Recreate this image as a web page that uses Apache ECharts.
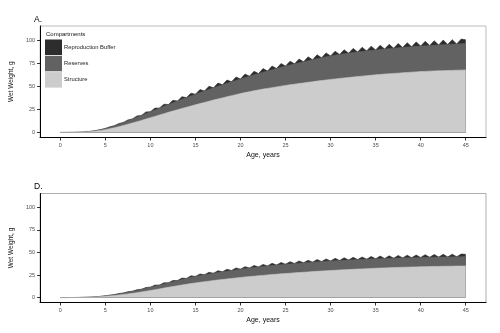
<!DOCTYPE html>
<html>
<head>
<meta charset="utf-8">
<script src="https://cdn.jsdelivr.net/npm/echarts@6/dist/echarts.min.js"></script>
<style>html,body{margin:0;padding:0;background:#fff}#c{width:500px;height:333px}</style>
</head>
<body>
<div id="c"></div>
<script>
// Age (years), half-year steps
const ages = [0,0.5,1,1.5,2,2.5,3,3.5,4,4.5,5,5.5,6,6.5,7,7.5,8,8.5,9,9.5,10,10.5,11,11.5,12,12.5,13,13.5,14,14.5,15,15.5,16,16.5,17,17.5,18,18.5,19,19.5,20,20.5,21,21.5,22,22.5,23,23.5,24,24.5,25,25.5,26,26.5,27,27.5,28,28.5,29,29.5,30,30.5,31,31.5,32,32.5,33,33.5,34,34.5,35,35.5,36,36.5,37,37.5,38,38.5,39,39.5,40,40.5,41,41.5,42,42.5,43,43.5,44,44.5,45];

// Panel A
const aStructure = [0,0.02,0.05,0.1,0.2,0.4,0.6,1.0,1.5,2.2,
 3.0,4.0,5.0,6.2,7.5,8.8,10.2,11.6,13.0,14.5,
 16.0,17.4,18.9,20.3,21.8,23.2,24.6,26.0,27.3,28.6,
 30.0,31.3,32.6,33.8,35.1,36.3,37.5,38.7,39.9,41.0,
 42.2,43.2,44.2,45.2,46.1,47.0,47.8,48.6,49.4,50.2,
 51.0,51.7,52.4,53.0,53.7,54.4,55.0,55.7,56.3,56.9,
 57.5,58.0,58.6,59.1,59.6,60.1,60.6,61.1,61.6,62.0,
 62.5,62.9,63.3,63.6,64.0,64.3,64.7,65.0,65.4,65.7,
 66.0,66.2,66.5,66.7,66.9,67.0,67.2,67.3,67.5,67.6,
 67.8];
const aReserves = [0,0,0,0.02,0.05,0.1,0.2,0.4,0.6,0.9,
 1.3,1.8,2.3,2.8,3.3,3.8,4.4,5.0,5.5,6.0,
 6.5,7.0,7.5,8.0,8.5,9.0,9.5,10.0,10.5,11.0,
 11.5,12.0,12.4,12.9,13.3,13.8,14.2,14.6,15.0,15.4,
 15.8,16.3,16.8,17.3,17.8,18.3,18.8,19.4,20.0,20.5,
 21.0,21.5,22.0,22.5,22.9,23.4,23.8,24.3,24.7,25.1,
 25.5,25.8,26.0,26.2,26.4,26.6,26.7,26.8,26.9,27.0,
 27.0,27.1,27.2,27.3,27.4,27.5,27.5,27.6,27.6,27.7,
 27.7,27.8,27.8,27.9,28.0,28.2,28.3,28.4,28.5,28.6,
 28.7];
const aBuffer = [0,0,0,0,0,0,0,0,0,0,
 0,0.3,0,0.6,0,1.0,0,1.3,0,1.7,
 0,2.0,0,2.3,0,2.6,0,2.8,0,3.0,
 0,3.2,0,3.4,0,3.5,0,3.6,0,3.7,
 0,3.8,0,3.9,0,4.0,0,4.0,0,4.1,
 0,4.1,0,4.2,0,4.2,0,4.3,0,4.3,
 0,4.4,0,4.4,0,4.5,0,4.5,0,4.6,
 0,4.6,0,4.7,0,4.7,0,4.8,0,4.8,
 0,4.9,0,4.9,0,5.0,0,5.0,0,5.1,
 4.0];

// Panel D
const dStructure = [0,0.01,0.02,0.05,0.1,0.2,0.3,0.5,0.7,1.0,
 1.4,1.8,2.3,2.8,3.4,4.0,4.7,5.4,6.2,7.0,
 7.8,8.7,9.6,10.5,11.4,12.2,13.1,13.9,14.7,15.5,
 16.2,16.9,17.6,18.2,18.9,19.5,20.1,20.6,21.2,21.7,
 22.3,22.8,23.3,23.7,24.2,24.6,25.1,25.5,25.9,26.3,
 26.7,27.0,27.4,27.7,28.1,28.4,28.8,29.1,29.4,29.7,
 30.0,30.3,30.6,30.8,31.1,31.3,31.6,31.8,32.1,32.3,
 32.5,32.7,32.9,33.1,33.3,33.4,33.6,33.7,33.9,34.0,
 34.2,34.3,34.4,34.5,34.6,34.7,34.8,34.8,34.9,34.9,
 35.0];
const dReserves = [0,0,0,0,0,0.02,0.05,0.1,0.2,0.35,
 0.5,0.7,1.0,1.3,1.6,1.9,2.3,2.6,3.0,3.3,
 3.7,4.0,4.3,4.6,4.9,5.3,5.7,6.1,6.5,6.9,
 7.3,7.5,7.7,7.9,8.1,8.3,8.5,8.7,8.9,9.0,
 9.2,9.3,9.5,9.6,9.8,9.9,10.0,10.1,10.2,10.2,
 10.3,10.3,10.4,10.4,10.5,10.5,10.5,10.5,10.6,10.6,
 10.6,10.6,10.6,10.6,10.6,10.6,10.6,10.5,10.5,10.5,
 10.5,10.5,10.5,10.4,10.4,10.4,10.4,10.4,10.4,10.3,
 10.3,10.3,10.3,10.3,10.3,10.3,10.3,10.3,10.4,10.4,
 10.5];
const dBuffer = [0,0,0,0,0,0,0,0,0,0,
 0,0.1,0,0.3,0,0.5,0,0.7,0,0.9,
 0,1.1,0,1.3,0,1.5,0,1.6,0,1.7,
 0,1.8,0,1.9,0,2.0,0,2.1,0,2.2,
 0,2.2,0,2.3,0,2.3,0,2.4,0,2.4,
 0,2.5,0,2.5,0,2.5,0,2.6,0,2.6,
 0,2.6,0,2.7,0,2.7,0,2.7,0,2.8,
 0,2.8,0,2.8,0,2.9,0,2.9,0,2.9,
 0,3.0,0,3.0,0,3.0,0,3.0,0,3.0,
 2.5];

const xTicks = [0,5,10,15,20,25,30,35,40,45];
const yTicks = [0,25,50,75,100];
const names = ['Structure','Reserves','Reproduction Buffer'];
const colors = ['#cccccc','#626262','#2d2d2d'];
const FONT = 'Liberation Sans, Arial, sans-serif';

function xAx(idx){
  return {
    type:'value', gridIndex:idx, min:-2.25, max:47.25,
    name:'Age, years', nameLocation:'middle', nameGap:14.5,
    nameTextStyle:{fontSize:7, color:'#111', fontFamily:FONT},
    axisLine:{show:true, onZero:false, lineStyle:{color:'#000', width:1}},
    axisTick:{show:true, length:3, customValues:xTicks, lineStyle:{color:'#000', width:0.8}},
    axisLabel:{customValues:xTicks, fontSize:5.5, color:'#4d4d4d', margin:5, fontFamily:FONT},
    splitLine:{show:false}
  };
}
function yAx(idx){
  return {
    type:'value', gridIndex:idx, min:-5.5, max:115.5,
    name:'Wet Weight, g', nameLocation:'middle', nameGap:17, nameRotate:90,
    nameTextStyle:{fontSize:6.5, color:'#111', fontFamily:FONT},
    axisLine:{show:true, onZero:false, lineStyle:{color:'#000', width:1}},
    axisTick:{show:true, length:3, customValues:yTicks, lineStyle:{color:'#000', width:0.8}},
    axisLabel:{customValues:yTicks, fontSize:5.5, color:'#4d4d4d', margin:5, fontFamily:FONT},
    splitLine:{show:false}
  };
}
// Stacked layers: build cumulative tops from the component arrays,
// draw the tallest layer first so lower layers paint over it.
function mk(arrs, idx){
  const cum = [];
  let run = ages.map(()=>0);
  arrs.forEach(arr => { run = run.map((v,i)=>v+arr[i]); cum.push(run); });
  const out = [];
  for (let k = arrs.length-1; k >= 0; k--) {
    out.push({
      name: names[k], type:'line', xAxisIndex:idx, yAxisIndex:idx,
      symbol:'none', smooth:false, z:2+(arrs.length-1-k),
      data: ages.map((a,i)=>[a, cum[k][i]]),
      itemStyle:{color:colors[k]},
      lineStyle:{color:colors[k], width:0.6},
      areaStyle:{color:colors[k], opacity:1, origin:0}
    });
  }
  return out;
}

const chart = echarts.init(document.getElementById('c'), null, {renderer:'canvas'});
chart.setOption({
  animation:false,
  backgroundColor:'#fff',
  textStyle:{fontFamily:FONT},
  grid:[
    {left:34, right:14, top:26, height:111.5, show:true, borderColor:'#aaa', borderWidth:0.8, backgroundColor:'#fff'},
    {left:34, right:14, top:193.5, height:109, show:true, borderColor:'#999', borderWidth:0.8, backgroundColor:'#fff'}
  ],
  title:[
    {text:'A.', left:34, top:15, textStyle:{fontSize:8.5, fontWeight:'normal', color:'#000', fontFamily:FONT}, padding:0},
    {text:'D.', left:34, top:182, textStyle:{fontSize:8.5, fontWeight:'normal', color:'#000', fontFamily:FONT}, padding:0}
  ],
  legend:{
    left:45, top:39.5, orient:'vertical', icon:'rect', itemWidth:17, itemHeight:15.5, itemGap:0.8,
    padding:0, data:['Reproduction Buffer','Reserves','Structure'],
    textStyle:{fontSize:5.8, color:'#222', fontFamily:FONT, padding:[0,0,0,-3]}
  },
  graphic:[
    {type:'text', left:46, top:31, style:{text:'Compartments', fontSize:6, fill:'#111', fontFamily:FONT}}
  ],
  xAxis:[xAx(0), xAx(1)],
  yAxis:[yAx(0), yAx(1)],
  series:[...mk([aStructure, aReserves, aBuffer], 0), ...mk([dStructure, dReserves, dBuffer], 1)]
});
</script>
</body>
</html>
